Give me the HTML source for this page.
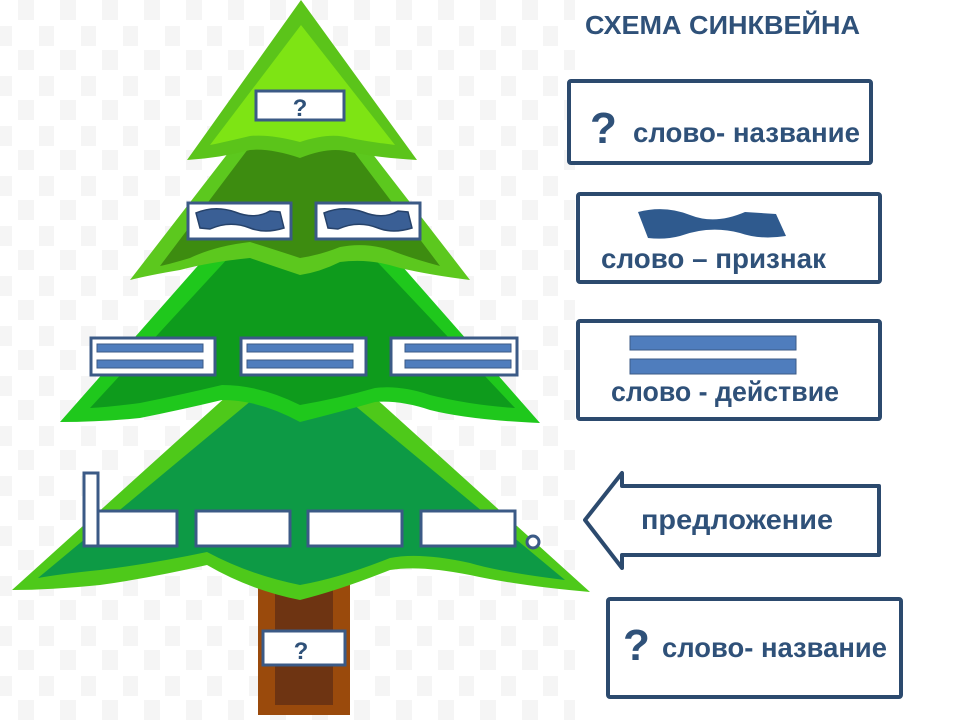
<!DOCTYPE html>
<html><head><meta charset="utf-8"><style>
html,body{margin:0;padding:0;background:#fff;}
svg{display:block}
text{font-family:"Liberation Sans","DejaVu Sans",sans-serif;font-weight:bold;fill:#2f5179}
</style></head><body>
<svg width="960" height="720" viewBox="0 0 960 720" xmlns="http://www.w3.org/2000/svg">
<defs>
<pattern id="chk" width="42" height="50" patternUnits="userSpaceOnUse">
<rect x="18" y="0" width="16" height="20" fill="#f5f5f5"/>
<rect x="0" y="26" width="12" height="20" fill="#f5f5f5"/>
<rect x="39" y="26" width="3" height="20" fill="#f5f5f5"/>
</pattern>
</defs>
<rect x="0" y="0" width="575" height="720" fill="url(#chk)"/>
<!-- trunk -->
<rect x="258" y="575" width="92" height="140" fill="#9a4a0c"/>
<rect x="275" y="590" width="58" height="115" fill="#6e3412"/>
<!-- tier 4 -->
<path d="M300 330 L590 592 Q520 586 470 575 Q420 565 390 570 Q340 590 300 600 Q250 590 207 565 Q150 578 100 585 Q50 590 12 590 Z" fill="#4ec91a"/>
<path d="M300 360 L565 580 Q500 572 470 563 Q420 552 390 558 Q340 578 300 585 Q250 575 207 552 Q150 564 100 570 Q60 574 38 578 Z" fill="#0d9a45"/>
<!-- tier 3 -->
<path d="M300 150 L540 423 Q470 420 430 410 Q400 400 375 402 Q340 412 300 422 Q260 400 222 400 Q180 410 140 418 Q100 422 60 422 Z" fill="#1fc81c"/>
<path d="M300 180 L515 408 Q470 405 430 395 Q400 385 375 388 Q340 398 300 405 Q260 385 222 385 Q180 395 140 403 Q110 407 90 408 Z" fill="#0e9b1c"/>
<!-- tier 2 -->
<path d="M300 60 L470 280 Q430 275 400 268 Q370 258 340 262 Q320 272 300 275 Q270 265 250 258 Q210 262 180 270 Q150 275 130 280 Z" fill="#5cc81e"/>
<path d="M300 80 L440 266 Q410 258 390 250 Q365 242 340 247 Q320 255 300 258 Q270 248 250 242 Q215 246 190 258 Q170 264 160 266 Z" fill="#3d8c10"/>
<!-- tier 1 -->
<path d="M301 0 L417 160 Q380 158 350 152 Q330 146 300 158 Q270 148 250 150 Q220 158 187 160 Z" fill="#5bc41a"/>
<path d="M301 25 L395 145 Q370 142 350 138 Q330 132 300 142 Q270 134 250 136 Q225 142 210 145 Z" fill="#7ee414"/>
<!-- tree boxes -->
<g fill="#fff" stroke="#3b5a86" stroke-width="3">
<rect x="256" y="91" width="88" height="29"/>
<rect x="188" y="203" width="103" height="36"/>
<rect x="316" y="203" width="104" height="36"/>
<rect x="91" y="338" width="124" height="37"/>
<rect x="241" y="338" width="125" height="37"/>
<rect x="391" y="338" width="126" height="37"/>
<rect x="98" y="511" width="79" height="35"/>
<rect x="84" y="473" width="14" height="73"/>
<rect x="196" y="511" width="94" height="35"/>
<rect x="308" y="511" width="94" height="35"/>
<rect x="421" y="511" width="94" height="35"/>
<rect x="263" y="631" width="82" height="34"/>
<circle cx="533" cy="542" r="6"/>
</g>
<text x="300" y="116" font-size="24" text-anchor="middle">?</text>
<text x="301" y="659" font-size="24" text-anchor="middle">?</text>
<g fill="#3a5f95" stroke="#26426a" stroke-width="1.5">
<path d="M196 213 Q215 205 235 212 Q255 220 270 211 L280 212 L284 228 Q265 234 250 228 Q230 220 210 229 L200 228 Z"/>
<path d="M324 213 Q343 205 363 212 Q383 220 398 211 L408 212 L412 228 Q393 234 378 228 Q358 220 338 229 L328 228 Z"/>
</g>
<g fill="#4f7dbd" stroke="#3b5a86" stroke-width="1">
<rect x="97" y="344" width="106" height="8"/><rect x="97" y="360" width="106" height="8"/>
<rect x="247" y="344" width="106" height="8"/><rect x="247" y="360" width="106" height="8"/>
<rect x="405" y="344" width="106" height="8"/><rect x="405" y="360" width="106" height="8"/>
</g>
<!-- right side -->
<text x="585" y="34" font-size="26" textLength="275" lengthAdjust="spacingAndGlyphs">СХЕМА СИНКВЕЙНА</text>
<g fill="#fff" stroke="#2c4a6e" stroke-width="4">
<rect x="569" y="81" width="302" height="82" rx="2"/>
<rect x="578" y="194" width="302" height="88" rx="2"/>
<rect x="578" y="321" width="302" height="98" rx="2"/>
<path d="M622 473 L622 486 L879 486 L879 555 L622 555 L622 568 L585 520 Z" stroke-linejoin="round"/>
<rect x="608" y="599" width="293" height="98" rx="2"/>
</g>
<text x="590" y="143" font-size="44" fill="#3a5f8a">?</text>
<text x="633" y="142" font-size="28" fill="#3a5f8a" textLength="227" lengthAdjust="spacingAndGlyphs">слово- название</text>
<path d="M638 212 Q665 205 690 215 Q715 225 745 212 L776 214 L786 236 Q760 240 740 233 Q710 225 680 236 Q665 240 648 238 Z" fill="#2f5a8e"/>
<text x="601" y="268" font-size="28" fill="#3a5f8a" textLength="225" lengthAdjust="spacingAndGlyphs">слово – признак</text>
<rect x="630" y="336" width="166" height="14" fill="#4f7dbd" stroke="#3b5a86"/>
<rect x="630" y="359" width="166" height="15" fill="#4f7dbd" stroke="#3b5a86"/>
<text x="611" y="401" font-size="28" fill="#3a5f8a" textLength="228" lengthAdjust="spacingAndGlyphs">слово - действие</text>
<text x="641" y="529" font-size="28" fill="#3a5f8a" textLength="192" lengthAdjust="spacingAndGlyphs">предложение</text>
<text x="623" y="660" font-size="44" fill="#3a5f8a">?</text>
<text x="662" y="657" font-size="28" fill="#3a5f8a" textLength="225" lengthAdjust="spacingAndGlyphs">слово- название</text>
</svg>
</body></html>
